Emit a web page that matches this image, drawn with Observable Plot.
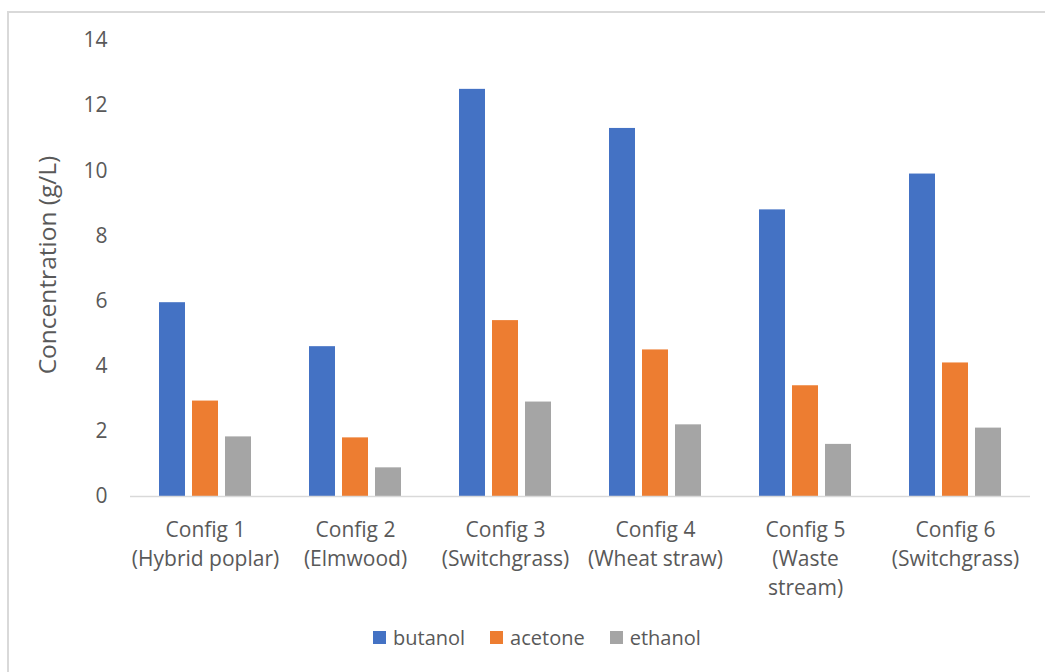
<!DOCTYPE html>
<html>
<head>
<meta charset="utf-8">
<script src="https://cdn.jsdelivr.net/npm/d3@7"></script>
<script src="https://cdn.jsdelivr.net/npm/@observablehq/plot@0.6"></script>
<style>
  html, body { margin: 0; padding: 0; background: #fff; }
  body { width: 1045px; height: 672px; position: relative; overflow: hidden; font-family: "Open Sans", sans-serif; }
  #frame { position: absolute; left: 7px; top: 11px; width: 1045px; height: 672px; border-left: 2px solid #d9d9d9; border-top: 2px solid #d9d9d9; box-sizing: border-box; }
  #chart { position: absolute; left: 0; top: 0; }
  #ylabel { position: absolute; left: 46px; top: 265px; transform: translate(-50%, -50%) rotate(-90deg); white-space: nowrap; font-size: 24.5px; color: #595959; }
  #legend { position: absolute; left: 373px; top: 624px; display: flex; align-items: center; font-size: 20px; color: #595959; }
  .item { display: flex; align-items: center; margin-right: 25px; }
  .sw { width: 13px; height: 13px; margin-right: 7px; }
</style>
</head>
<body>
<div id="frame"></div>
<div id="chart"></div>
<div id="ylabel">Concentration (g/L)</div>
<div id="legend"></div>
<script>
const configs = ["Config 1", "Config 2", "Config 3", "Config 4", "Config 5", "Config 6"];
const configLabels = ["Config 1\n(Hybrid poplar)", "Config 2\n(Elmwood)", "Config 3\n(Switchgrass)", "Config 4\n(Wheat straw)", "Config 5\n(Waste\nstream)", "Config 6\n(Switchgrass)"];
const series = ["butanol", "acetone", "ethanol"];
const butanol = [5.95, 4.6, 12.5, 11.3, 8.8, 9.9];
const acetone = [2.93, 1.8, 5.4, 4.5, 3.4, 4.1];
const ethanol = [1.83, 0.88, 2.9, 2.2, 1.6, 2.1];
const colors = ["#4472C4", "#ED7D31", "#A5A5A5"];
const yTicks = [0, 2, 4, 6, 8, 10, 12, 14];

const valuesBySeries = {butanol, acetone, ethanol};
const data = [];
configs.forEach((c, i) => series.forEach(s => data.push({config: c, series: s, value: valuesBySeries[s][i]})));
const labelOf = new Map(configs.map((c, i) => [c, configLabels[i]]));

const chart = Plot.plot({
  width: 1045,
  height: 610,
  marginLeft: 128,
  marginRight: 13,
  marginTop: 40,
  marginBottom: 114,
  style: {fontFamily: "'Open Sans', sans-serif", fontSize: "21px", color: "#595959", background: "transparent"},
  fx: {domain: configs, padding: 0, label: null, axis: null},
  x: {domain: series, padding: 0.224, paddingOuter: 0.862, axis: null},
  y: {domain: [0, 14], ticks: yTicks, label: null, axis: null},
  color: {domain: series, range: colors},
  marks: [
    Plot.barY(data, {fx: "config", x: "series", y: "value", fill: "series"}),
    Plot.ruleY([0], {stroke: "#d9d9d9", strokeWidth: 1.5}),
    Plot.axisY({ticks: yTicks, anchor: "left", tickSize: 0, tickPadding: 23, fontSize: 21, fill: "#595959", label: null}),
    Plot.axisFx({anchor: "bottom", tickSize: 0, tickPadding: 20, fontSize: 21, fill: "#595959", lineHeight: 1.38, tickFormat: d => labelOf.get(d), label: null})
  ]
});
document.getElementById("chart").appendChild(chart);

const legend = document.getElementById("legend");
series.forEach((s, i) => {
  const item = document.createElement("div");
  item.className = "item";
  item.innerHTML = `<span class="sw" style="background:${colors[i]}"></span><span>${s}</span>`;
  legend.appendChild(item);
});
</script>
</body>
</html>
